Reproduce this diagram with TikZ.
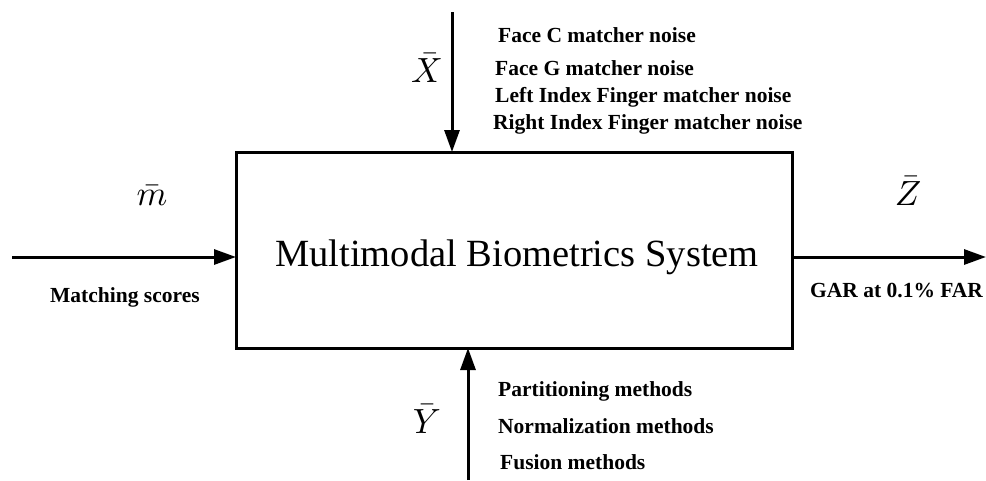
\documentclass[tikz,border=0pt]{standalone}
\usepackage{fontspec}
\usepackage{graphicx}
\setmainfont{Liberation Serif}
\usetikzlibrary{arrows.meta}
\newcommand{\bigsym}[1]{\scalebox{3.5}{$\bar{#1}$}}
\begin{document}
\begin{tikzpicture}[x=1pt,y=-1pt,
  lbl/.style={font=\fontsize{21.5}{24}\selectfont\bfseries, inner sep=0, anchor=base west},
  sym/.style={inner sep=0, anchor=base},
  flow/.style={line width=3pt, -{Triangle[length=22pt,width=15pt]}}]
\useasboundingbox (0,0) rectangle (986,480);
\fill[white] (0,0) rectangle (986,480);
% system box
\node[draw, line width=3pt, minimum width=556pt, minimum height=196pt, inner sep=0] (sys) at (514,250) {};
\node[font=\fontsize{38.5}{44}\selectfont, inner sep=0, anchor=base] (title) at (517,266) {Multimodal Biometrics System};
% connector ends
\coordinate (xin) at (452,12);
\coordinate (yin) at (468,480);
\coordinate (min) at (12,257);
\coordinate (zout) at (986,257);
\coordinate (xhit) at (452,152);
\coordinate (yhit) at (468,348);
\coordinate (mhit) at (236,257);
\coordinate (zstart) at (792,257);
\draw[flow] (xin) -- (xhit);
\draw[flow] (yin) -- (yhit);
\draw[flow] (min) -- (mhit);
\draw[flow] (zstart) -- (zout);
% symbols
\node[sym] (xs) at (427,82) {\bigsym{X}};
\node[sym] (ys) at (427,433) {\bigsym{Y}};
\node[sym] (ms) at (152,205) {\bigsym{m}};
\node[sym] (zs) at (908,205) {\bigsym{Z}};
% top labels
\node[lbl] (l1) at (498,42) {Face C matcher noise};
\node[lbl] (l2) at (495,75) {Face G matcher noise};
\node[lbl] (l3) at (495,102) {Left Index Finger matcher noise};
\node[lbl] (l4) at (493,129) {Right Index Finger matcher noise};
% bottom labels
\node[lbl] (b1) at (498,396) {Partitioning methods};
\node[lbl] (b2) at (498,433) {Normalization methods};
\node[lbl] (b3) at (500,469) {Fusion methods};
% side labels
\node[lbl] (ms2) at (50,302) {Matching scores};
\node[lbl] (gar) at (810,297) {GAR at 0.1\% FAR};
\end{tikzpicture}
\end{document}
